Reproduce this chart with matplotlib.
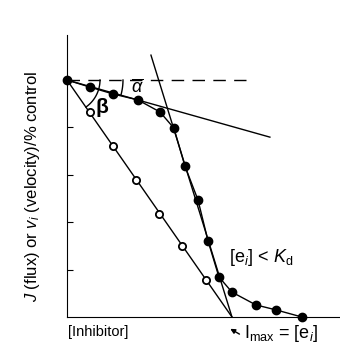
import numpy as np
import matplotlib
matplotlib.use('Agg')
import matplotlib.pyplot as plt

plt.rcParams['font.family'] = ['Liberation Sans', 'DejaVu Sans']
plt.rcParams['mathtext.fontset'] = 'custom'
plt.rcParams['mathtext.rm'] = 'Liberation Sans'
plt.rcParams['mathtext.it'] = 'Liberation Sans:italic'
plt.rcParams['mathtext.bf'] = 'Liberation Sans:bold'

# data (x: inhibitor, Imax = 1 ; y: % control)
x_filled = [0.0, 0.14, 0.28, 0.43, 0.564, 0.648, 0.715, 0.794, 0.855, 0.921, 1.0, 1.145, 1.267, 1.424]
y_filled = [100, 97.0, 94.1, 91.6, 86.5, 79.7, 63.7, 49.4, 32.1, 16.9, 10.5, 5.1, 3.0, 0.0]
x_open = [0.14, 0.28, 0.42, 0.56, 0.70, 0.84]
y_open = [86.5, 72.2, 57.8, 43.5, 30.0, 15.6]
open_line_x = [0.0, 1.0]
open_line_y = [100, 0]
tan1_x = [0.0, 1.23]      # initial slope of filled curve (alpha)
tan1_y = [100, 75.9]
tan2_x = [0.509, 1.0]     # steep tangent to Imax
tan2_y = [110.5, 0]
dash_x = [0.0, 1.085]
dash_y = [100, 100]
yticks = [20, 40, 60, 80]

fig = plt.figure(figsize=(3.4, 3.43), dpi=100)
ax = fig.add_axes([67/340, 26/343, 273/340, 282/343])
ax.set_xlim(0, 1.655)
ax.set_ylim(0, 119)

ax.plot(dash_x, dash_y, color='black', lw=1.0, ls=(0, (9, 6)))
ax.plot(tan1_x, tan1_y, color='black', lw=1.0)
ax.plot(tan2_x, tan2_y, color='black', lw=1.0)
ax.plot(open_line_x, open_line_y, color='black', lw=1.0)
ax.plot(x_open, y_open, 'o', ms=5.2, mfc='white', mec='black', mew=1.3, clip_on=False, zorder=3)
ax.plot(x_filled, y_filled, '-o', color='black', lw=1.0, ms=6, clip_on=False, zorder=3)

# angle arcs, radius given in pixels, drawn round the control point
sx = 165.0
sy = 2.37
def angle_arc(r, a_deg):
    th = np.radians(np.linspace(0, a_deg, 30))
    ax.plot(r*np.cos(th)/sx, 100 - r*np.sin(th)/sy, color='black', lw=1.0)

angle_arc(33, 55)
angle_arc(56, 15)

ax.text(0.215, 88.5, r'$\mathbf{\beta}$', fontsize=15, ha='center', va='center')
ax.text(0.425, 97.0, r'$\overline{\alpha}$', fontsize=13, ha='center', va='center')

ax.text(0.985, 25, r'[e$_{\mathit{i}}$] < $\mathit{K}_{\rm d}$', fontsize=13, ha='left', va='center')

ax.annotate('', xy=(0.975, -4.4), xytext=(1.06, -7.8),
            arrowprops=dict(arrowstyle='-|>', color='black', lw=1.0, mutation_scale=7),
            annotation_clip=False)
ax.text(1.075, -7.0, r'I$_{\rm max}$ = [e$_{\mathit{i}}$]', fontsize=13, ha='left', va='center')

ax.set_xlabel('[Inhibitor]', fontsize=10.5)
ax.xaxis.set_label_coords(0.114, -0.03)
ax.set_ylabel(r'$\mathit{J}$ (flux) or $\mathit{v_i}$ (velocity)/% control', fontsize=12)
ax.yaxis.set_label_coords(-0.09, 0.465)

ax.spines['top'].set_visible(False)
ax.spines['right'].set_visible(False)
ax.set_xticks([])
ax.set_yticks(yticks)
ax.set_yticklabels([])
ax.tick_params(axis='y', direction='in', length=4)

fig.savefig('out.png', dpi=100)
